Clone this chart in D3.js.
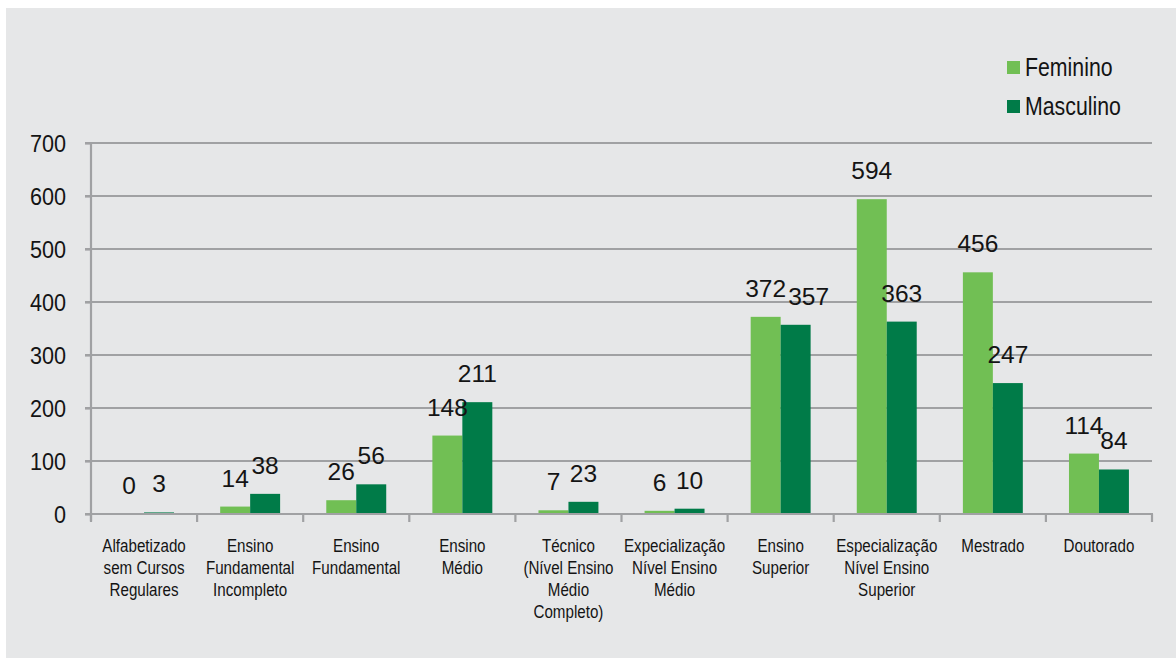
<!DOCTYPE html>
<html>
<head>
<meta charset="utf-8">
<script src="https://cdn.jsdelivr.net/npm/d3@7/dist/d3.min.js"></script>
<style>
  html, body { margin: 0; padding: 0; background: #ffffff; }
  svg { display: block; }
</style>
</head>
<body>
<svg id="chart" width="1176" height="658"></svg>
<script>
const categories = [
  "Alfabetizado\nsem Cursos\nRegulares",
  "Ensino\nFundamental\nIncompleto",
  "Ensino\nFundamental",
  "Ensino\nMédio",
  "Técnico\n(Nível Ensino\nMédio\nCompleto)",
  "Expecialização\nNível Ensino\nMédio",
  "Ensino\nSuperior",
  "Especialização\nNível Ensino\nSuperior",
  "Mestrado",
  "Doutorado"
];
const seriesNames = ["Feminino", "Masculino"];
const feminino = [0, 14, 26, 148, 7, 6, 372, 594, 456, 114];
const masculino = [3, 38, 56, 211, 23, 10, 357, 363, 247, 84];
const yTicks = [0, 100, 200, 300, 400, 500, 600, 700];

const colors = { Feminino: "#71bf54", Masculino: "#007b48" };
const gridColor = "#a0a1a3";
const textColor = "#141414";
const font = "'Liberation Sans', Arial, Helvetica, sans-serif";
const condense = 0.82; // emulates the condensed typeface of the original

const svg = d3.select("#chart");
svg.append("rect").attr("x", 6).attr("y", 8).attr("width", 1170).attr("height", 650).attr("fill", "#e6e7e8");

const plotLeft = 91, plotRight = 1152, plotTop = 143, plotBottom = 514;
const y = d3.scaleLinear().domain([0, 700]).range([plotBottom, plotTop]);
const x = d3.scaleBand().domain(d3.range(categories.length)).range([plotLeft, plotRight]).paddingInner(0).paddingOuter(0);
const x1 = d3.scaleBand().domain(seriesNames).range([0, x.bandwidth()]).paddingInner(0).paddingOuter(0.77);

// gridlines
svg.append("g").selectAll("line").data(yTicks.filter(t => t > 0)).join("line")
  .attr("x1", plotLeft - 6).attr("x2", plotRight)
  .attr("y1", d => y(d)).attr("y2", d => y(d))
  .attr("stroke", gridColor).attr("stroke-width", 2.2);

// y axis
const yAxis = svg.append("g").attr("transform", `translate(${plotLeft},0)`)
  .call(d3.axisLeft(y).tickValues(yTicks).tickSize(6).tickPadding(19));
yAxis.select(".domain").attr("stroke", gridColor).attr("stroke-width", 2.2).attr("d", `M0,${plotTop - 1}V${plotBottom + 7}`);
yAxis.selectAll(".tick line").attr("stroke", gridColor).attr("stroke-width", 2.2);
yAxis.selectAll(".tick text").attr("font-family", font).attr("font-size", 24)
  .attr("fill", textColor).attr("dy", "0.36em")
  .attr("transform", `translate(-25,0) scale(0.9,1) translate(25,0)`);

// bars
const rows = categories.map((c, i) => ({ i, values: [
  { key: "Feminino", value: feminino[i] },
  { key: "Masculino", value: masculino[i] }
]}));

const groups = svg.append("g").selectAll("g").data(rows).join("g")
  .attr("transform", d => `translate(${x(d.i)},0)`);

groups.selectAll("rect").data(d => d.values).join("rect")
  .attr("x", d => x1(d.key))
  .attr("width", x1.bandwidth())
  .attr("y", d => y(d.value))
  .attr("height", d => y(0) - y(d.value))
  .attr("fill", d => colors[d.key]);

// x axis
const xAxisG = svg.append("g");
xAxisG.append("line").attr("x1", plotLeft - 6).attr("x2", plotRight + 1)
  .attr("y1", plotBottom).attr("y2", plotBottom).attr("stroke", gridColor).attr("stroke-width", 2.2);
const boundaries = d3.range(categories.length + 1).map(i => plotLeft + i * x.step());
xAxisG.selectAll("line.tk").data(boundaries).join("line").attr("class", "tk")
  .attr("x1", d => d).attr("x2", d => d)
  .attr("y1", plotBottom).attr("y2", plotBottom + 8)
  .attr("stroke", gridColor).attr("stroke-width", 2.2);

// category labels
const catText = svg.append("g").selectAll("text").data(categories).join("text")
  .attr("text-anchor", "middle")
  .attr("font-family", font).attr("font-size", 18.5).attr("fill", textColor)
  .attr("transform", (d, i) => `translate(${x(i) + x.bandwidth() / 2},552) scale(${condense},1)`);
catText.selectAll("tspan").data(d => d.split("\n")).join("tspan")
  .attr("x", 0).attr("y", (d, j) => j * 22).text(d => d);

// data labels (one label nudged right to avoid collision, as in the original)
const nudge = { "6-Masculino": 13 };
groups.selectAll("text").data(d => d.values.map(v => ({ ...v, i: d.i }))).join("text")
  .attr("x", d => x1(d.key) + x1.bandwidth() / 2 + (nudge[d.i + "-" + d.key] || 0))
  .attr("y", d => y(d.value) - 20)
  .attr("text-anchor", "middle")
  .attr("font-family", font).attr("font-size", 24.5).attr("fill", textColor)
  .text(d => d.value);

// legend
const legend = svg.append("g").selectAll("g").data(seriesNames).join("g")
  .attr("transform", (d, i) => `translate(1007,${61 + i * 39})`);
legend.append("rect").attr("width", 13).attr("height", 13).attr("fill", d => colors[d]);
legend.append("text").attr("transform", `translate(18,15) scale(${condense},1)`)
  .attr("font-family", font).attr("font-size", 26).attr("fill", textColor)
  .text(d => d);
</script>
</body>
</html>
